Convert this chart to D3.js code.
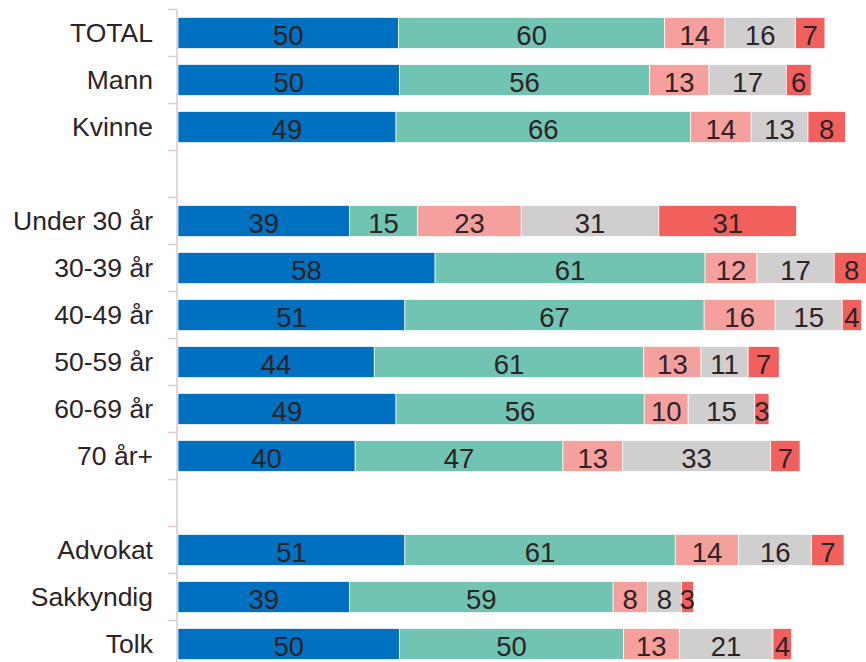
<!DOCTYPE html>
<html><head><meta charset="utf-8">
<script src="https://cdn.jsdelivr.net/npm/d3@7"></script>
<style>html,body{margin:0;padding:0;background:#fff}svg{display:block}</style>
</head><body>
<svg id="c" width="866" height="662"></svg>
<script>
const categories = ["TOTAL","Mann","Kvinne","","Under 30 år","30-39 år","40-49 år","50-59 år","60-69 år","70 år+"," ","Advokat","Sakkyndig","Tolk"];
const series = ["s1","s2","s3","s4","s5"];
const s1 = [49.7,49.9,49.1,null,38.6,57.9,51.1,44.2,49.1,39.9,null,51.1,38.6,49.9];
const s2 = [59.9,56.3,66.3,null,15.4,60.8,67.4,60.7,55.9,46.8,null,60.9,59.4,50.4];
const s3 = [13.6,13.4,13.7,null,23.3,11.7,16.0,12.9,9.9,13.4,null,14.3,7.7,12.6];
const s4 = [15.9,17.4,12.8,null,31.0,17.4,15.1,10.6,15.0,33.4,null,16.4,7.7,21.1];
const s5 = [6.6,5.6,8.4,null,31.0,7.9,4.4,7.0,3.2,6.6,null,7.3,2.7,4.2];
const colors = ["#0070C0","#70C4B1","#F5A09C","#D0CECE","#F1605C"];

const svg = d3.select("#c");
const x = d3.scaleLinear().domain([0,155]).range([178,178+155*4.44]);
const y = d3.scaleBand().domain(categories).range([9.5, 9.5+14*47]).paddingInner(0.34).paddingOuter(0.17);
const vals = [s1,s2,s3,s4,s5];
const textCol = "#2d2326";
const font = "'Liberation Sans',Arial,sans-serif";

// segments
categories.forEach((c,i)=>{
  if (s1[i]==null) return;
  let acc = 0;
  vals.forEach((arr,k)=>{
    const v = arr[i];
    const x0 = x(acc), x1 = x(acc+v);
    svg.append("rect").attr("x",x0).attr("y",y(c)).attr("width",x1-x0).attr("height",y.bandwidth())
      .attr("fill",colors[k]).attr("stroke","#fff").attr("stroke-width",0.7);
    acc += v;
  });
});
// labels in bars
categories.forEach((c,i)=>{
  if (s1[i]==null) return;
  let acc = 0;
  vals.forEach((arr,k)=>{
    const v = arr[i];
    const cx = x(acc + v/2);
    svg.append("text").attr("x",cx).attr("y",y(c)+y.bandwidth()/2+11.5)
      .attr("text-anchor","middle").attr("font-family",font)
      .attr("font-size",27.5).attr("fill",textCol).text(Math.round(v));
    acc += v;
  });
});
// axis
const axisCol = "#DDC9CF";
const ax = svg.append("g");
ax.append("line").attr("x1",177).attr("x2",177).attr("y1",y.range()[0]).attr("y2",y.range()[1]).attr("stroke",axisCol).attr("stroke-width",1.5);
const step = y.step();
categories.forEach((c,i)=>{
  const yy = y(c) - step*y.paddingOuter();
  ax.append("line").attr("x1",168).attr("x2",177).attr("y1",yy).attr("y2",yy).attr("stroke",axisCol).attr("stroke-width",1.5);
});
ax.append("line").attr("x1",168).attr("x2",177).attr("y1",y.range()[1]).attr("y2",y.range()[1]).attr("stroke",axisCol).attr("stroke-width",1.5);
// category labels
categories.forEach(c=>{
  if (!c.trim()) return;
  svg.append("text").attr("x",153).attr("y",y(c)+y.bandwidth()/2+8.5)
    .attr("text-anchor","end").attr("font-family",font)
    .attr("font-size",26.5).attr("fill",textCol).text(c);
});
</script>
</body></html>
